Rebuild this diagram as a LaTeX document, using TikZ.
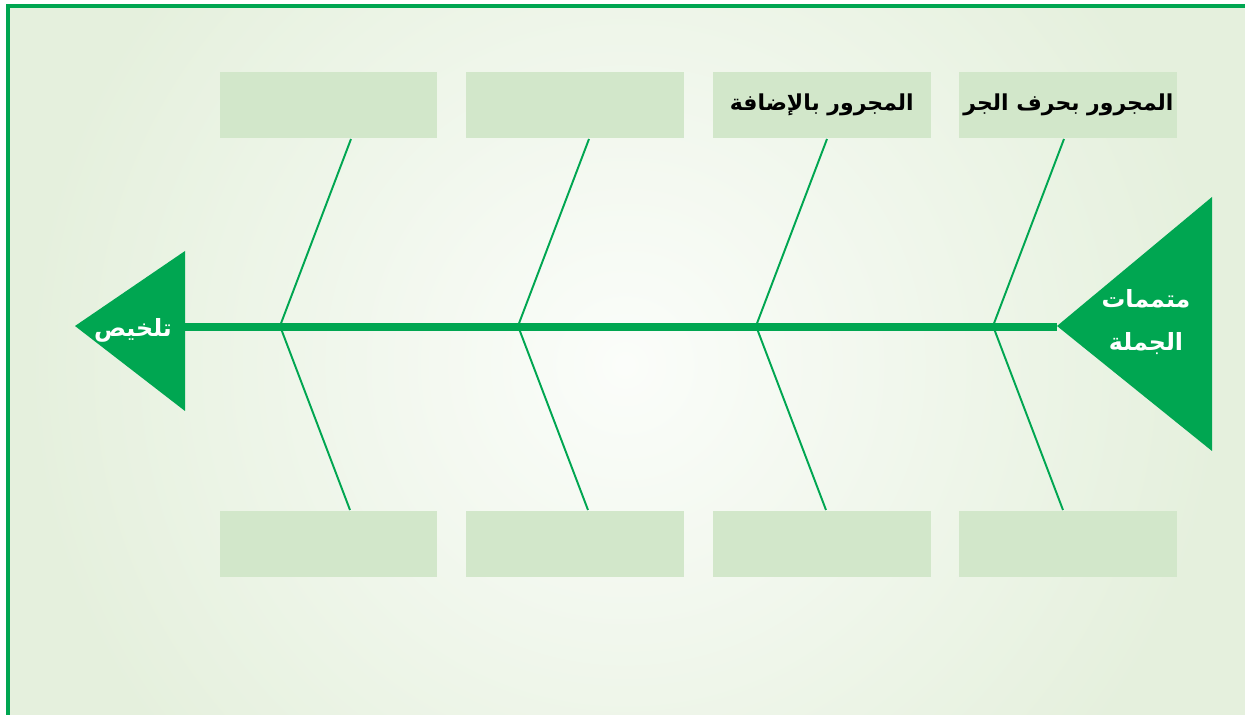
\documentclass[tikz,border=0pt]{standalone}
\usepackage{fontspec}
\newfontfamily\arabicfont[Script=Arabic]{DejaVu Sans}
\TeXXeTstate=1
\usepackage{xcolor}
\definecolor{fishgreen}{HTML}{00A651}
\definecolor{paper}{HTML}{E5F0DD}
\definecolor{glow}{HTML}{FBFDFA}
\definecolor{boxfill}{HTML}{D2E7CA}
\usepackage{tikz}
\usetikzlibrary{positioning}

\begin{document}
\begin{tikzpicture}[
  x=0.02cm, y=-0.02cm,
  node distance=0.56cm,
  catbox/.style={
    rectangle, fill=boxfill, draw=none,
    minimum width=4.36cm, minimum height=1.32cm, inner sep=0pt,
    font=\arabicfont\fontsize{12.5}{15}\selectfont\bfseries
  },
  headtext/.style={
    text=white, align=center, inner sep=0pt,
    font=\arabicfont\fontsize{13.5}{24}\selectfont\bfseries
  },
  spine/.style={fishgreen, line width=5pt},
  bone/.style={fishgreen, line width=1.1pt}
]

\useasboundingbox (0,0) rectangle (1245,715);
\fill[white] (0,0) rectangle (1245,715);
\fill[paper] (8,6) rectangle (1260,730);
\begin{scope}
  \clip (8,6) rectangle (1260,730);
  \shade[inner color=glow, outer color=paper] (625,365) circle (600);
\end{scope}
\draw[fishgreen, line width=2.2pt] (1260,6) -- (8,6) -- (8,730);

% category boxes
\node[catbox] (t1) at (328.5,105) {};
\node[catbox, right=of t1] (t2) {};
\node[catbox, right=of t2] (t3) {\beginR المجرور بالإضافة\endR};
\node[catbox, right=of t3] (t4) {\beginR المجرور بحرف الجر\endR};
\node[catbox, below=7.44cm of t1] (b1) {};
\node[catbox, below=7.44cm of t2] (b2) {};
\node[catbox, below=7.44cm of t3] (b3) {};
\node[catbox, below=7.44cm of t4] (b4) {};

% head and tail
\fill[fishgreen] (75,326) -- (185,251) -- (185,411) -- cycle;
\fill[fishgreen] (1057,326) -- (1212,197) -- (1212,451) -- cycle;
\node[headtext] (summary) at (133,330) {\beginR تلخيص\endR};
\node[headtext] (head) at (1146,322) {\beginR متممات\endR\\\beginR الجملة\endR};

\coordinate (tail) at (185,327);
\coordinate (nose) at (1057,327);
\draw[spine] (tail) -- (nose);

% bones
\foreach \j/\n in {280/1, 518/2, 756/3, 993/4} {
  \coordinate (up\n) at (\j+71,139);
  \coordinate (jn\n) at (\j,326);
  \coordinate (dn\n) at (\j+70,510);
  \draw[bone] (up\n) -- (jn\n) -- (dn\n);
}

\end{tikzpicture}
\end{document}
